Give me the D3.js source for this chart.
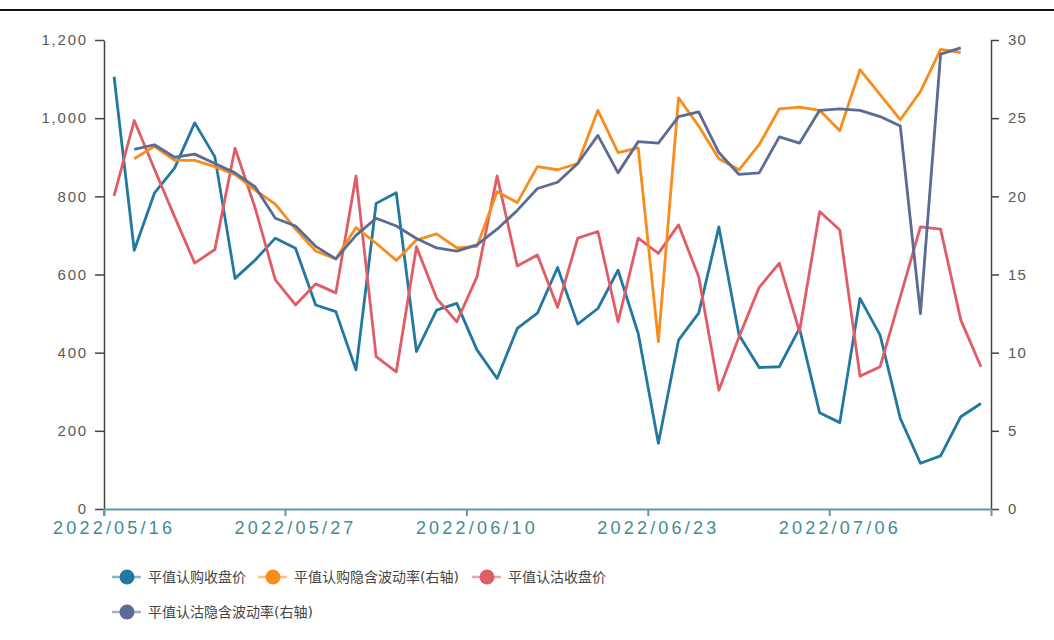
<!DOCTYPE html>
<html>
<head>
<meta charset="utf-8">
<script src="https://cdn.jsdelivr.net/npm/d3@7"></script>
<style>
  body { margin: 0; background: #fff; }
  svg { font-family: "DejaVu Sans", "Noto Sans CJK SC", sans-serif; }
  .axis text { fill: #5a5a5a; }
</style>
</head>
<body>
<svg class="chart"></svg>
<script>
// trading days on the x axis
var dates = ["2022/05/16","2022/05/17","2022/05/18","2022/05/19","2022/05/20",
  "2022/05/23","2022/05/24","2022/05/25","2022/05/26","2022/05/27",
  "2022/05/30","2022/05/31","2022/06/01","2022/06/02","2022/06/06",
  "2022/06/07","2022/06/08","2022/06/09","2022/06/10","2022/06/13",
  "2022/06/14","2022/06/15","2022/06/16","2022/06/17","2022/06/20",
  "2022/06/21","2022/06/22","2022/06/23","2022/06/24","2022/06/27",
  "2022/06/28","2022/06/29","2022/06/30","2022/07/01","2022/07/04",
  "2022/07/05","2022/07/06","2022/07/07","2022/07/08","2022/07/11",
  "2022/07/12","2022/07/13","2022/07/14","2022/07/15"];
var xTickLabels = ["2022/05/16","2022/05/27","2022/06/10","2022/06/23","2022/07/06"];
var leftTicks = [0, 200, 400, 600, 800, 1000, 1200];
var rightTicks = [0, 5, 10, 15, 20, 25, 30];

var seriesNames = ["平值认购收盘价","平值认购隐含波动率(右轴)","平值认沽收盘价","平值认沽隐含波动率(右轴)"];
var seriesColors = ["#22789f","#f88c1c","#e05d66","#5b6b93"];

// left axis series (price)
var callClose = [1106, 662, 808, 872, 988, 901, 590, 637, 693, 667,
  522, 505, 356, 782, 809, 403, 509, 526, 407, 334,
  462, 501, 618, 473, 513, 611, 449, 168, 432, 501,
  722, 445, 362, 364, 462, 246, 221, 539, 445, 232,
  117, 136, 236, 270];
var putClose = [801, 994, 870, 748, 629, 664, 923, 770, 586, 522,
  576, 553, 852, 390, 351, 671, 539, 479, 594, 852,
  622, 650, 516, 693, 710, 479, 693, 654, 727, 594,
  304, 440, 567, 629, 454, 761, 714, 340, 364, 543,
  722, 716, 484, 364];
// right axis series (implied vol), no value on first and last day
var callVol = [null, 22.4, 23.2, 22.3, 22.3, 21.9, 21.4, 20.4, 19.5, 17.9,
  16.5, 16.0, 18.0, 17.0, 15.9, 17.2, 17.6, 16.7, 16.8, 20.3,
  19.6, 21.9, 21.7, 22.1, 25.5, 22.8, 23.1, 10.7, 26.3, 24.5,
  22.4, 21.7, 23.3, 25.6, 25.7, 25.5, 24.2, 28.1, 26.5, 24.9,
  26.7, 29.4, 29.2, null];
var putVol = [null, 23.0, 23.3, 22.5, 22.7, 22.1, 21.5, 20.6, 18.6, 18.1,
  16.8, 16.0, 17.5, 18.6, 18.1, 17.3, 16.7, 16.5, 16.9, 17.9,
  19.1, 20.5, 20.9, 22.1, 23.9, 21.5, 23.5, 23.4, 25.1, 25.4,
  22.8, 21.4, 21.5, 23.8, 23.4, 25.5, 25.6, 25.5, 25.1, 24.5,
  12.5, 29.1, 29.5, null];

var width = 1054, height = 640;
var margin = {top: 40, right: 63, bottom: 131, left: 104};
var w = width - margin.left - margin.right;
var h = height - margin.top - margin.bottom;

var svg = d3.select(".chart")
    .attr("width", width)
    .attr("height", height);

// black rule on top of the picture
svg.append("line")
    .attr("x1", 0).attr("x2", width)
    .attr("y1", 10).attr("y2", 10)
    .style("stroke", "#111")
    .style("stroke-width", 2);

var chart = svg.append("g")
    .attr("transform", "translate(" + margin.left + "," + margin.top + ")");

var x = d3.scaleBand()
    .domain(dates)
    .range([0, w]);
var bw = x.bandwidth();

var yL = d3.scaleLinear().domain([0, 1200]).range([h, 0]);
var yR = d3.scaleLinear().domain([0, 30]).range([h, 0]);

// left axis
var yAxisL = d3.axisLeft(yL)
    .tickValues(leftTicks)
    .tickFormat(d3.format(","))
    .tickSize(9)
    .tickSizeOuter(0)
    .tickPadding(7);

var gl = chart.append("g")
    .attr("class", "axis")
    .call(yAxisL);
gl.selectAll("path, line").style("stroke", "#444").style("stroke-width", 1.5);
gl.selectAll("text").style("font-size", "15px").style("letter-spacing", "1.8px");

// right axis
var yAxisR = d3.axisRight(yR)
    .tickValues(rightTicks)
    .tickSize(8)
    .tickSizeOuter(0)
    .tickPadding(9);

var gr = chart.append("g")
    .attr("class", "axis")
    .attr("transform", "translate(" + w + ",0)")
    .call(yAxisR);
gr.selectAll("path, line").style("stroke", "#444").style("stroke-width", 1.5);
gr.selectAll("text").style("font-size", "15px").style("letter-spacing", "1.2px");

// bottom axis, ticks sit on band edges and labels in band centres
var xAxis = d3.axisBottom(x)
    .tickValues(xTickLabels)
    .tickSize(7)
    .tickSizeOuter(7)
    .tickPadding(5);

var gx = chart.append("g")
    .attr("class", "axis")
    .attr("transform", "translate(0," + h + ")")
    .call(xAxis);
gx.selectAll(".tick line").attr("x1", -bw / 2).attr("x2", -bw / 2);
gx.selectAll("path, line").style("stroke", "#5a9ca1").style("stroke-width", 2);
gx.selectAll("text")
    .style("fill", "#3f8d93")
    .style("font-size", "18px")
    .style("letter-spacing", "3.2px");

function cx(d, i) { return x(dates[i]) + bw / 2; }

var series = [
  {values: callClose, scale: yL},
  {values: callVol, scale: yR},
  {values: putClose, scale: yL},
  {values: putVol, scale: yR}
];

// draw in the same stacking as the picture
[0, 2, 1, 3].forEach(function(k) {
  var s = series[k];
  var line = d3.line()
      .defined(function(d) { return d !== null; })
      .x(cx)
      .y(function(d) { return s.scale(d); });
  chart.append("path")
      .datum(s.values)
      .attr("d", line)
      .style("fill", "none")
      .style("stroke", seriesColors[k])
      .style("stroke-width", 2.8)
      .style("stroke-linejoin", "round");
});

// legend
var legendPos = [
  {x: 112, y: 577},
  {x: 258, y: 577},
  {x: 472, y: 577},
  {x: 112, y: 612}
];

var legend = svg.selectAll(".legend")
    .data(seriesNames)
    .enter().append("g")
    .attr("class", "legend")
    .attr("transform", function(d, i) { return "translate(" + legendPos[i].x + "," + legendPos[i].y + ")"; });

legend.append("line")
    .attr("x1", 0).attr("x2", 29)
    .attr("y1", 0).attr("y2", 0)
    .style("stroke", function(d, i) { return seriesColors[i]; })
    .style("stroke-opacity", 0.55)
    .style("stroke-width", 2.5);

legend.append("circle")
    .attr("cx", 15)
    .attr("cy", 0)
    .attr("r", 7.5)
    .style("fill", function(d, i) { return seriesColors[i]; });

legend.append("text")
    .attr("x", 36)
    .attr("y", 0)
    .attr("dy", "0.35em")
    .style("font-size", "14px")
    .style("fill", "#444")
    .text(function(d) { return d; });
</script>
</body>
</html>
